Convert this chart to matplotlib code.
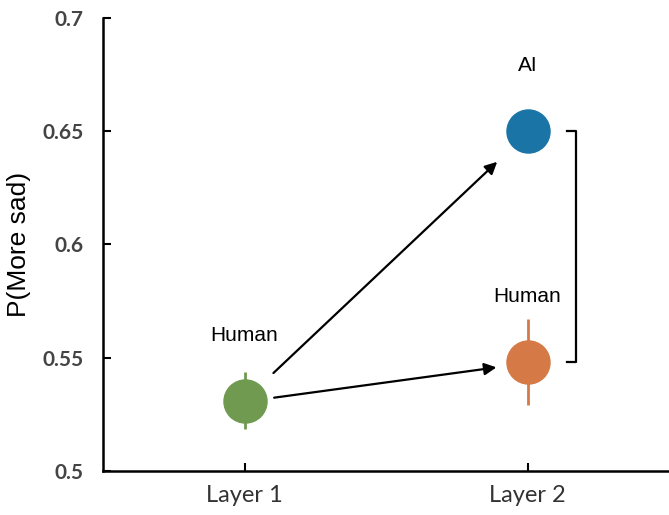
import matplotlib.pyplot as plt

# condition means and error bars
layers = ['Layer 1', 'Layer 2']
x_pos = [1, 2, 2]
means = [0.531, 0.650, 0.548]
errors = [0.0125, 0.004, 0.019]
colors = ['#6f9a50', '#1a74a6', '#d57a46']
point_labels = ['Human', 'AI', 'Human']
yticks = [0.5, 0.55, 0.6, 0.65, 0.7]
ytick_labels = ['0.5', '0.55', '0.6', '0.65', '0.7']

fig = plt.figure(figsize=(6.69, 5.15), dpi=100)
ax = fig.add_axes([0.154, 0.0854, 0.846, 0.880])

for x, m, e, c in zip(x_pos, means, errors, colors):
    ax.errorbar(x, m, yerr=e, fmt='o', color=c, ms=31, mec=c,
                elinewidth=2, capsize=0, zorder=3)

# labels above each point
for x, m, lab in zip(x_pos, means, point_labels):
    ax.text(x, m + 0.029, lab, ha='center', va='center', fontsize=15,
            family='Liberation Sans')

# arrows from layer 1 to each layer 2 point
ax.annotate('', xy=(1.90, 0.6373), xytext=(1.095, 0.5424),
            arrowprops=dict(arrowstyle='-|>', color='black', lw=1.6,
                            mutation_scale=18))
ax.annotate('', xy=(1.90, 0.5459), xytext=(1.095, 0.5322),
            arrowprops=dict(arrowstyle='-|>', color='black', lw=1.6,
                            mutation_scale=18))

# bracket between the two layer 2 points
ax.plot([2.138, 2.172, 2.172, 2.138], [means[1], means[1], means[2], means[2]],
        color='black', lw=1.6)

ax.set_xlim(0.5, 2.5)
ax.set_ylim(0.5, 0.7)
ax.set_xticks([1, 2])
ax.set_xticklabels(layers, fontsize=17, color='#333333', family='Lato')
ax.set_yticks(yticks)
ax.set_yticklabels(ytick_labels, fontsize=15, color='#444444', family='Lato',
                   fontweight='bold')
ax.tick_params(direction='in', length=6, width=1.5, pad=14)
ax.tick_params(axis='x', pad=10)
ax.set_ylabel('P(More sad)', fontsize=19, family='Liberation Sans', labelpad=8)

for side in ['top', 'right']:
    ax.spines[side].set_visible(False)
for side in ['left', 'bottom']:
    ax.spines[side].set_linewidth(1.8)

fig.savefig('out.png', dpi=100)
